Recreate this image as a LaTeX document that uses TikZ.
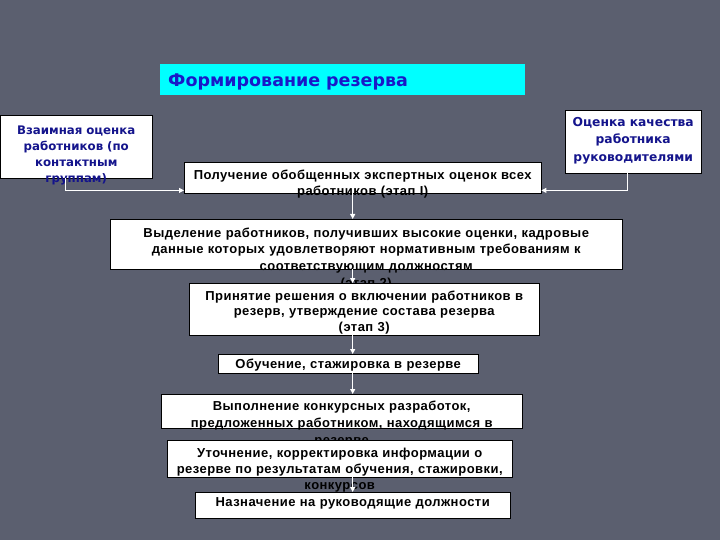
\documentclass[tikz,border=0pt]{standalone}
\usepackage{fontspec}
\setmainfont{Liberation Sans}
\newfontfamily\boxfont[LetterSpace=3.5]{Liberation Sans}
\newfontfamily\sidefont{DejaVu Sans}
\usetikzlibrary{arrows.meta}
\definecolor{fon}{RGB}{91,95,111}
\definecolor{zagfill}{RGB}{0,255,255}
\definecolor{zagtext}{RGB}{25,25,200}
\definecolor{navytext}{RGB}{20,20,140}
\begin{document}
\begin{tikzpicture}[x=1pt,y=-1pt,
	box/.style={draw=black,fill=white,anchor=north west,align=center,inner xsep=0pt,inner ysep=0pt,font=\boxfont\bfseries\fontsize{13}{16}\selectfont},
	side/.style={box,text=navytext,font=\sidefont\bfseries\fontsize{11.8}{16}\selectfont},
	flow/.style={draw=white,line width=1pt,-{Triangle[length=5pt,width=5pt]}}]
	\useasboundingbox (0,0) rectangle (720,540);
	\fill[fon] (0,0) rectangle (720,540);
	\node[fill=zagfill,anchor=north west,align=left,text=zagtext,text width=349pt,inner xsep=8pt,inner ysep=0pt,text height=22pt,text depth=9pt,font=\sidefont\bfseries\fontsize{17.5}{20}\selectfont] (zag) at (160,64) {Формирование резерва};
	\node[side,text width=152pt,text height=19pt,text depth=44pt] (vz) at (0,115) {Взаимная оценка\\работников (по\\контактным\\группам)};
	\node[side,text width=136pt,text height=16pt,text depth=47pt,font=\sidefont\bfseries\fontsize{12.3}{17.5}\selectfont] (ok) at (565,110) {Оценка качества\\работника\\руководителями};
	\node[box,text width=357pt,text height=17pt,text depth=14pt] (p1) at (184,162) {Получение обобщенных экспертных оценок всех\\работников (этап I)};
	\node[box,text width=512pt,text height=18pt,text depth=32pt,font=\boxfont\bfseries\fontsize{13}{16.7}\selectfont] (p2) at (110,219) {Выделение работников, получивших высокие оценки, кадровые\\данные которых удовлетворяют нормативным требованиям к\\соответствующим должностям\\(этап 2)};
	\node[box,text width=350pt,text height=17pt,text depth=35pt,font=\boxfont\bfseries\fontsize{13}{15.5}\selectfont] (p3) at (189,283) {Принятие решения о включении работников в\\резерв, утверждение состава резерва\\(этап 3)};
	\node[box,text width=260pt,text height=14pt,text depth=5pt] (p4) at (218,354) {Обучение, стажировка в резерве};
	\node[box,text width=361pt,text height=16pt,text depth=18pt,font=\boxfont\bfseries\fontsize{13}{17}\selectfont] (p5) at (161,394) {Выполнение конкурсных разработок,\\предложенных работником, находящимся в\\резерве};
	\node[box,text width=345pt,text height=17pt,text depth=20pt] (p6) at (167,440) {Уточнение, корректировка информации о\\резерве по результатам обучения, стажировки,\\конкурсов};
	\node[box,text width=315pt,text height=14pt,text depth=12pt] (p7) at (195,492) {Назначение на руководящие должности};
	\draw[flow] ([xshift=-11pt]vz.south) |- ([yshift=3pt]p1.south west);
	\draw[flow] ([xshift=-6pt]ok.south) |- ([yshift=3pt]p1.south east);
	\draw[flow] (p1.south -| p7) -- (p2.north -| p7);
	\draw[flow] (p2.south -| p7) -- (p3.north -| p7);
	\draw[flow] (p3.south -| p7) -- (p4.north -| p7);
	\draw[flow] (p4.south -| p7) -- (p5.north -| p7);
	\draw[flow] (p6.south -| p7) -- (p7.north);
\end{tikzpicture}
\end{document}
